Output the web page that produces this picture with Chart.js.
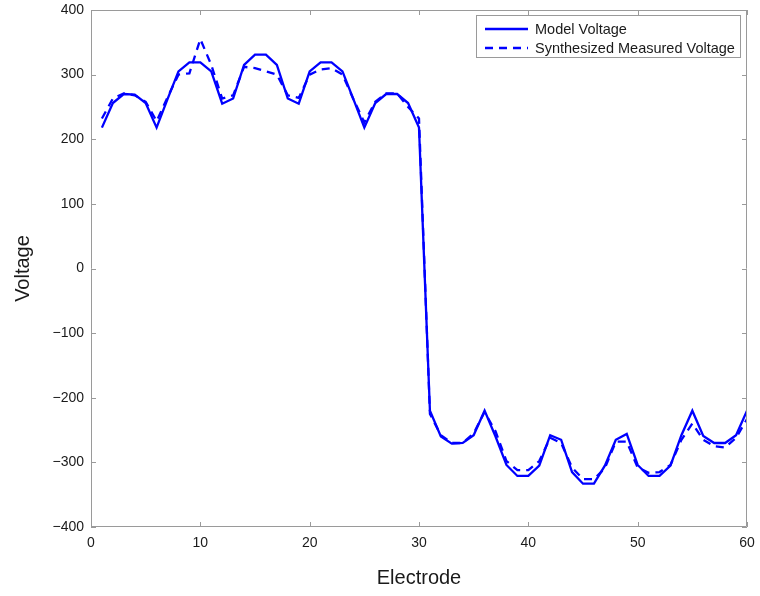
<!DOCTYPE html>
<html>
<head>
<meta charset="utf-8">
<script src="https://cdn.jsdelivr.net/npm/chart.js@4/dist/chart.umd.min.js"></script>
<style>
  html, body { margin: 0; padding: 0; background: #fff; }
  #wrap { width: 760px; height: 596px; }
</style>
</head>
<body>
<div id="wrap"><canvas id="c" width="760" height="596"></canvas></div>
<script>
// Electrode numbers 1..60
const electrodes = [
  1,2,3,4,5,6,7,8,9,10,11,12,13,14,15,16,17,18,19,20,
  21,22,23,24,25,26,27,28,29,30,31,32,33,34,35,36,37,38,39,40,
  41,42,43,44,45,46,47,48,49,50,51,52,53,54,55,56,57,58,59,60
];

// Model voltage per electrode
const modelVoltage = [
  218, 256, 270, 269, 256, 218, 262, 305, 319, 319,
  305, 255, 263, 315, 331, 331, 315, 263, 255, 305,
  319, 319, 305, 262, 218, 256, 270, 270, 256, 218,
  -220, -260, -271, -270, -258, -220, -260, -304, -321, -321,
  -305, -258, -265, -315, -333, -333, -305, -265, -256, -304,
  -321, -321, -305, -258, -220, -259, -270, -270, -258, -220
];

// Synthesized measured voltage per electrode
const measuredVoltage = [
  232, 263, 271, 268, 258, 228, 265, 300, 302, 355,
  315, 263, 268, 312, 310, 305, 300, 268, 264, 300,
  308, 310, 300, 262, 226, 258, 271, 271, 250, 232,
  -225, -258, -270, -270, -255, -222, -252, -298, -312, -312,
  -298, -262, -270, -308, -326, -326, -309, -268, -268, -308,
  -316, -315, -304, -265, -240, -265, -275, -277, -262, -233
];

const xTicks = [0, 10, 20, 30, 40, 50, 60];
const yTicks = [-400, -300, -200, -100, 0, 100, 200, 300, 400];

const seriesLabels = ['Model Voltage', 'Synthesized Measured Voltage'];

const FONT = '"Liberation Sans", Arial, Helvetica, sans-serif';
const AXIS_GRAY = '#9a9a9a';
const BLUE = '#0000ff';

// Box frame and inward tick marks on all four sides
const frameTicks = {
  id: 'frameTicks',
  afterDatasetsDraw(chart) {
    const { ctx, chartArea: a, scales } = chart;
    const len = 5;
    ctx.save();
    ctx.strokeStyle = AXIS_GRAY;
    ctx.lineWidth = 1;
    ctx.beginPath();
    ctx.rect(a.left + 0.5, a.top + 0.5, a.right - a.left - 1, a.bottom - a.top - 1);
    ctx.stroke();
    ctx.beginPath();
    scales.x.ticks.forEach(t => {
      const px = Math.round(scales.x.getPixelForValue(t.value)) + 0.5;
      ctx.moveTo(px, a.bottom); ctx.lineTo(px, a.bottom - len);
      ctx.moveTo(px, a.top); ctx.lineTo(px, a.top + len);
    });
    scales.y.ticks.forEach(t => {
      const py = Math.round(scales.y.getPixelForValue(t.value)) + 0.5;
      ctx.moveTo(a.left, py); ctx.lineTo(a.left + len, py);
      ctx.moveTo(a.right, py); ctx.lineTo(a.right - len, py);
    });
    ctx.stroke();
    ctx.restore();
  }
};

// Legend box in the upper-right corner of the plot
const cornerLegend = {
  id: 'cornerLegend',
  afterDraw(chart) {
    const { ctx, chartArea: a } = chart;
    const right = a.right - 6, top = a.top + 5;
    const width = 265, height = 43;
    const left = right - width;
    ctx.save();
    ctx.fillStyle = '#fff';
    ctx.fillRect(left, top, width, height);
    ctx.strokeStyle = AXIS_GRAY;
    ctx.lineWidth = 1;
    ctx.strokeRect(left + 0.5, top + 0.5, width - 1, height - 1);
    ctx.font = '14.5px ' + FONT;
    ctx.textBaseline = 'middle';
    ctx.fillStyle = '#1a1a1a';
    chart.data.datasets.forEach((ds, i) => {
      const y = top + 14 + i * 19;
      ctx.strokeStyle = ds.borderColor;
      ctx.lineWidth = ds.borderWidth;
      ctx.setLineDash(ds.borderDash || []);
      ctx.beginPath();
      ctx.moveTo(left + 9, y);
      ctx.lineTo(left + 52, y);
      ctx.stroke();
      ctx.setLineDash([]);
      ctx.fillText(ds.label, left + 59, y + 0.5);
    });
    ctx.restore();
  }
};

const toPoints = ys => electrodes.map((x, i) => ({ x, y: ys[i] }));

new Chart(document.getElementById('c'), {
  type: 'line',
  data: {
    datasets: [
      {
        label: seriesLabels[0],
        data: toPoints(modelVoltage),
        borderColor: BLUE,
        borderWidth: 2.3,
        pointRadius: 0,
        tension: 0,
        fill: false
      },
      {
        label: seriesLabels[1],
        data: toPoints(measuredVoltage),
        borderColor: BLUE,
        borderWidth: 2.3,
        borderDash: [8, 6],
        pointRadius: 0,
        tension: 0,
        fill: false
      }
    ]
  },
  options: {
    responsive: false,
    animation: false,
    devicePixelRatio: 1,
    layout: { padding: { top: 10, right: 13, left: 0, bottom: 0 } },
    plugins: {
      legend: { display: false },
      tooltip: { enabled: false }
    },
    scales: {
      x: {
        type: 'linear',
        min: xTicks[0],
        max: xTicks[xTicks.length - 1],
        afterFit(scale) {
          scale.height = 69;
          scale.paddingLeft = 0;
          scale.paddingRight = 0;
        },
        afterBuildTicks(scale) { scale.ticks = xTicks.map(v => ({ value: v })); },
        grid: { display: false, drawTicks: false },
        border: { display: false },
        ticks: {
          padding: 8,
          color: '#1a1a1a',
          font: { family: FONT, size: 14 },
          maxRotation: 0,
          callback: v => String(v)
        },
        title: {
          display: true,
          text: 'Electrode',
          color: '#1a1a1a',
          font: { family: FONT, size: 20 },
          padding: { top: 0, bottom: 6 }
        }
      },
      y: {
        type: 'linear',
        min: yTicks[0],
        max: yTicks[yTicks.length - 1],
        afterFit(scale) {
          scale.width = 91;
          scale.paddingTop = 0;
          scale.paddingBottom = 0;
        },
        afterBuildTicks(scale) { scale.ticks = yTicks.map(v => ({ value: v })); },
        grid: { display: false, drawTicks: false },
        border: { display: false },
        ticks: {
          padding: 7,
          color: '#1a1a1a',
          font: { family: FONT, size: 14 },
          callback: v => String(v).replace('-', '\u2212')
        },
        title: {
          display: true,
          text: 'Voltage',
          color: '#1a1a1a',
          font: { family: FONT, size: 20 },
          padding: { top: 11, bottom: 0 }
        }
      }
    }
  },
  plugins: [frameTicks, cornerLegend]
});
</script>
</body>
</html>
